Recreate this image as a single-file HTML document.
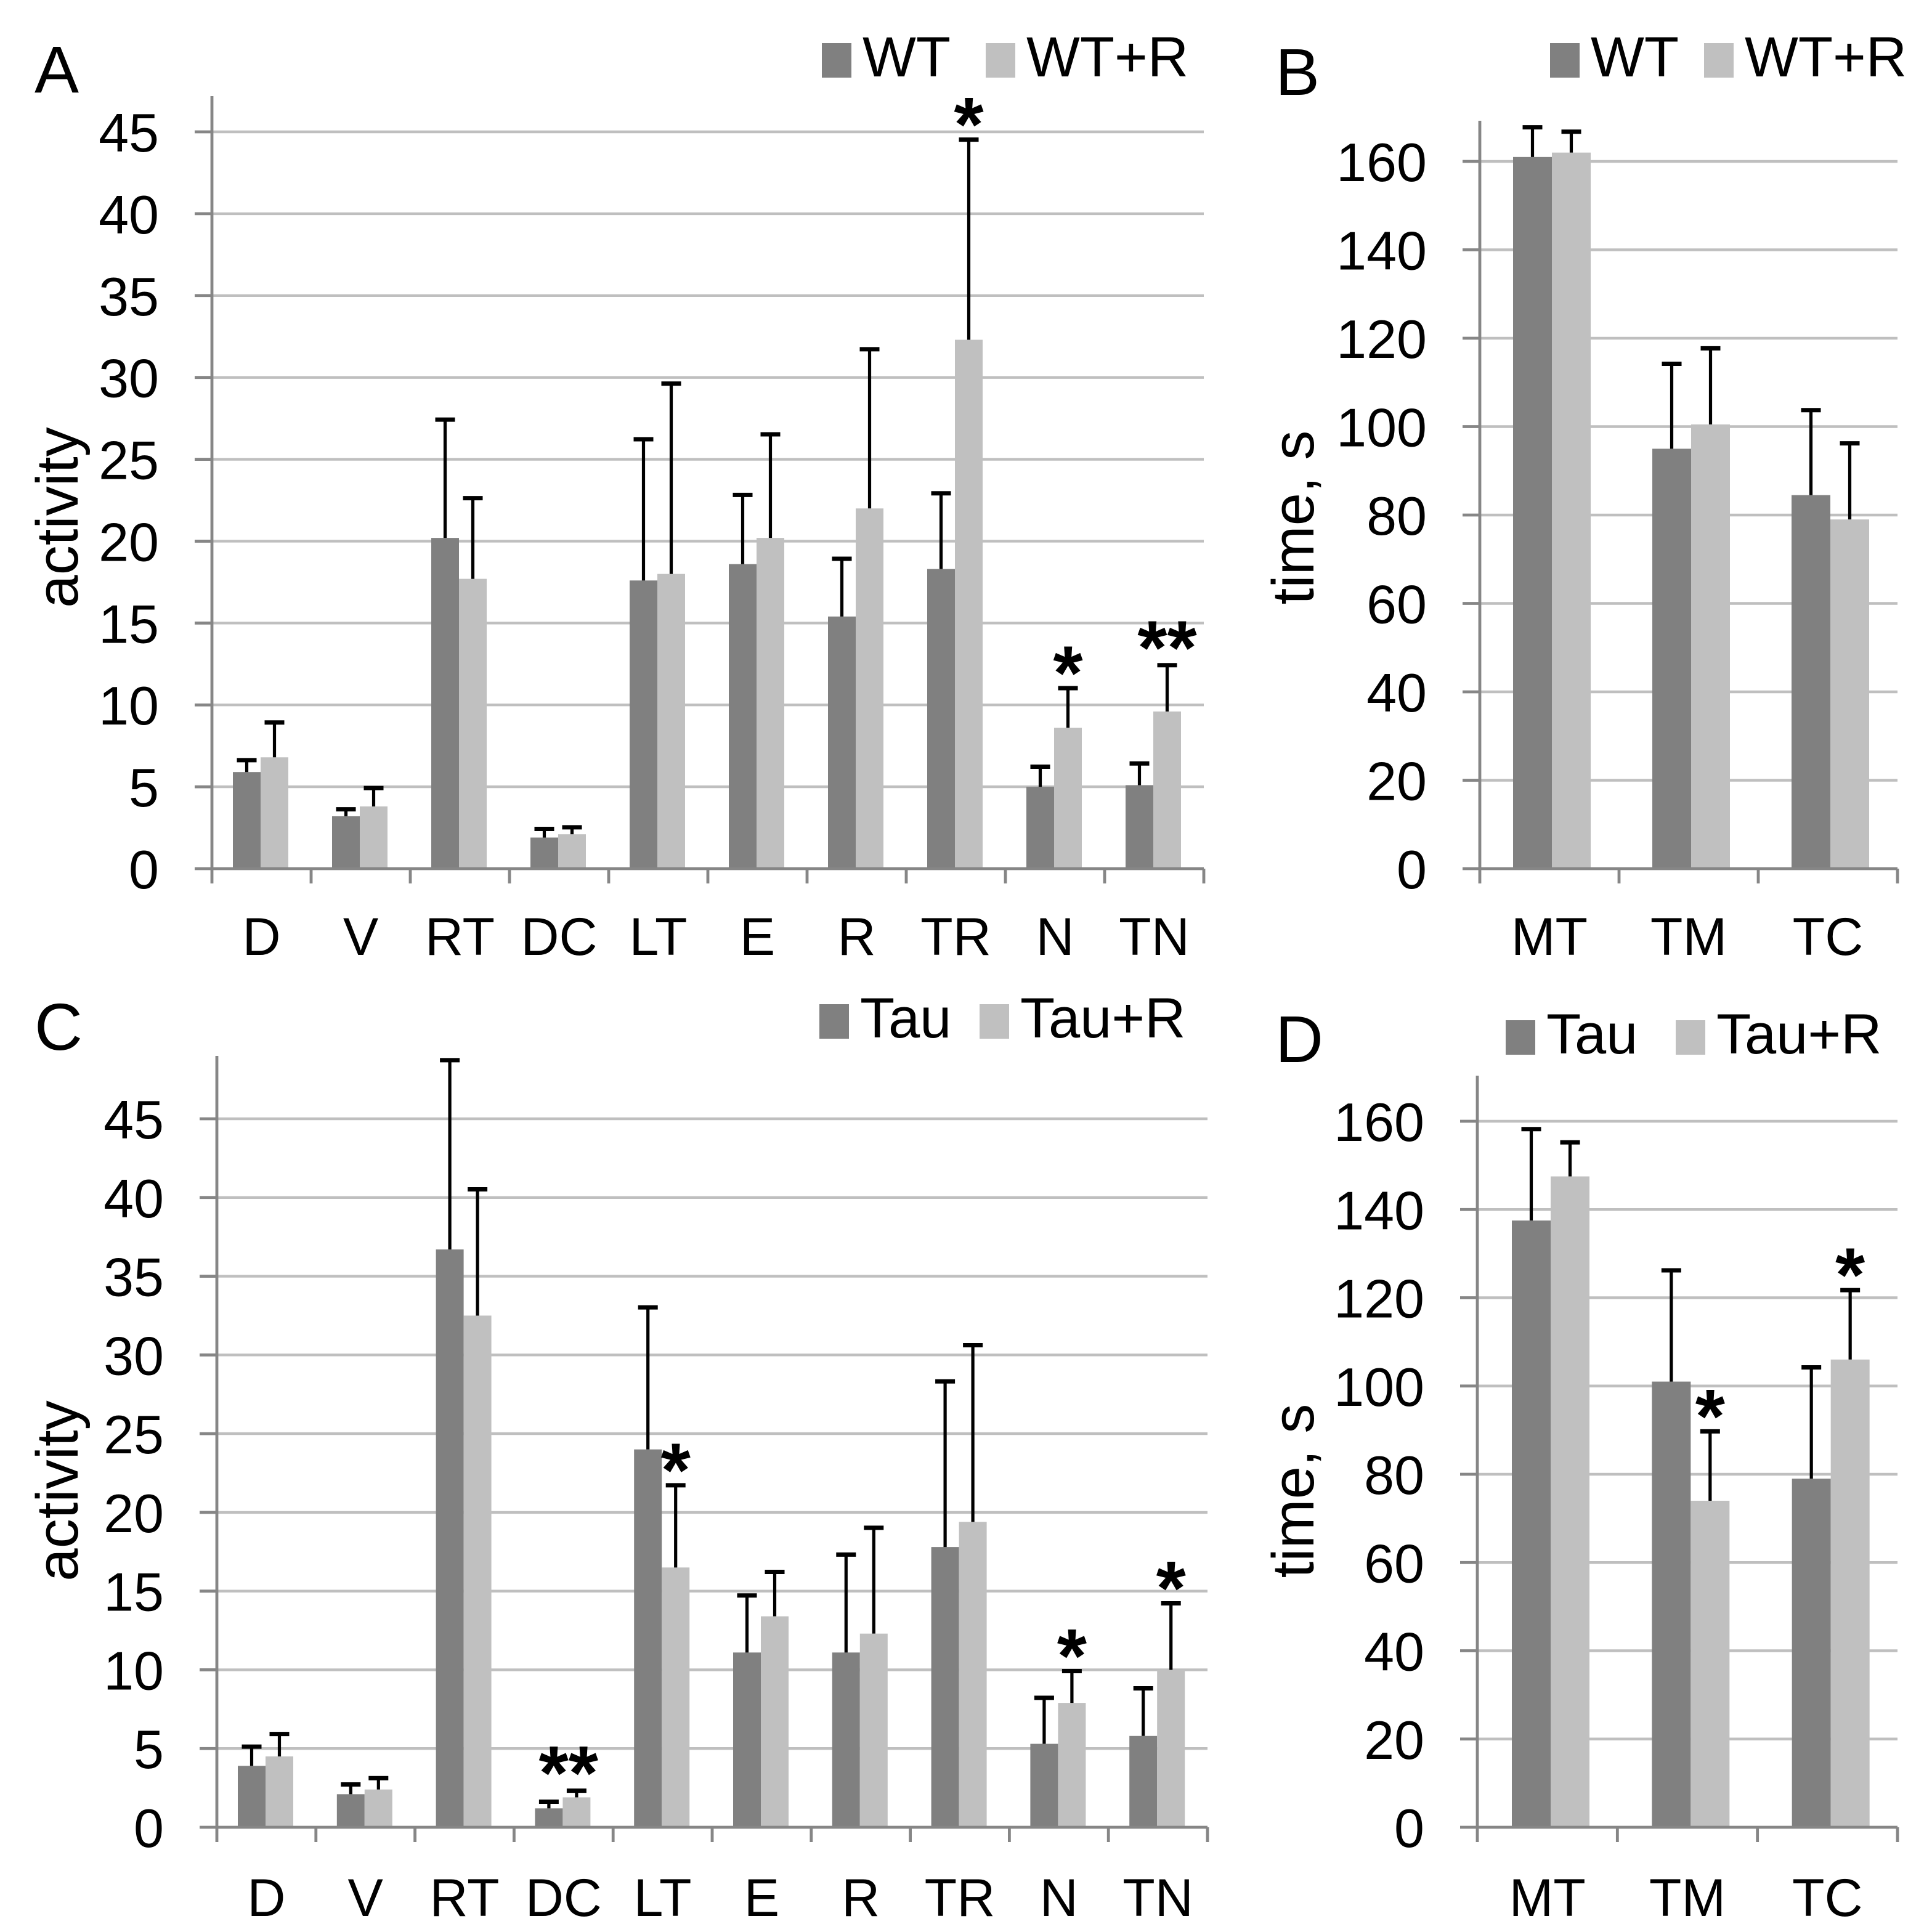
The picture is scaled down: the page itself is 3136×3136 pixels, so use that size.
<!DOCTYPE html>
<html><head><meta charset="utf-8"><style>
html,body{margin:0;padding:0;background:#fff}
svg{display:block}
text{font-family:"Liberation Sans",Arial,sans-serif}
</style></head><body>
<svg id="chart" width="3136" height="3136" viewBox="0 0 1568 1568" xmlns="http://www.w3.org/2000/svg"></svg>
<script>
const catsAct=["D","V","RT","DC","LT","E","R","TR","N","TN"];
const catsTime=["MT","TM","TC"];
const aWT=[5.9,3.2,20.2,1.9,17.6,18.6,15.4,18.3,5.0,5.1];
const aWTerr=[6.7,3.7,27.5,2.5,26.3,22.9,19.0,23.0,6.3,6.5];
const aWTR=[6.8,3.8,17.7,2.1,18.0,20.2,22.0,32.3,8.6,9.6];
const aWTRerr=[9.0,5.0,22.7,2.6,29.7,26.6,31.8,44.6,11.1,12.5];
const aStarsL=["","","","","","","","*","*","**"];
const bWT=[161,95,84.5];
const bWTerr=[168,114.5,104];
const bWTR=[162,100.5,79];
const bWTRerr=[167,118,96.5];
const cTau=[3.9,2.1,36.7,1.2,24.0,11.1,11.1,17.8,5.3,5.8];
const cTauErr=[5.2,2.8,48.8,1.7,33.1,14.8,17.4,28.4,8.3,8.9];
const cTauR=[4.5,2.4,32.5,1.9,16.5,13.4,12.3,19.4,7.9,10.0];
const cTauRerr=[6.0,3.2,40.6,2.4,21.8,16.3,19.1,30.7,10.0,14.3];
const cStarsL=["","","","**","*","","","","*","*"];
const dTau=[137.5,101,79];
const dTauErr=[158.5,126.5,104.5];
const dTauR=[147.5,74,106];
const dTauRerr=[155.5,90,122];
const dStarsL=["","*","*"];
const actTicks=[0,5,10,15,20,25,30,35,40,45];
const timeTicks=[0,20,40,60,80,100,120,140,160];

const svg=document.getElementById('chart');
const NS="http://www.w3.org/2000/svg";
function mk(tag,at,parent){const e=document.createElementNS(NS,tag);for(const k in at)e.setAttribute(k,at[k]);(parent||svg).appendChild(e);return e;}
function txt(s,at,parent){const e=mk('text',at,parent);e.textContent=s;return e;}

function panel(o){
  const g=mk('g',{});
  
  
  const y=v=>o.y0-(v-0)*(o.y0-o.yTop)/o.vTop;
  const n=o.cats.length, band=(o.x1-o.x0)/n;
  const x=i=>o.x0+band*i;
  o.ticks.forEach(t=>{
    if(t>0){const l=mk('line',{x1:o.x0,x2:o.x1,y1:y(t),y2:y(t),stroke:'#bfbfbf','stroke-width':2.2},g);
      }
    const tl=txt(String(t),{x:o.x0-43,y:y(t)+16,'font-size':44,'text-anchor':'end',fill:'#000'},g);
    
    mk('line',{x1:o.x0-14,x2:o.x0,y1:y(t),y2:y(t),stroke:'#868686','stroke-width':2.4},g);
  });
  const ya=mk('line',{x1:o.x0,x2:o.x0,y1:o.axTop,y2:o.y0,stroke:'#868686','stroke-width':2.4},g);
  
  const yt=txt(o.ytitle,{x:0,y:0,'font-size':48,'text-anchor':'middle',transform:`translate(${o.ytx},${o.yty}) rotate(-90)`},g);
  
  const bw=o.bw, off=o.off;
  for(let i=0;i<n;i++){
    const xd=x(i)+off, xl=xd+bw;
    const b1=mk('rect',{x:xd,y:y(o.s1[i]),width:bw,height:o.y0-y(o.s1[i]),fill:'#808080'},g);
    
    const b2=mk('rect',{x:xl,y:y(o.s2[i]),width:bw,height:o.y0-y(o.s2[i]),fill:'#c0c0c0'},g);
    
    [[xd,o.s1[i],o.e1[i]],[xl,o.s2[i],o.e2[i]]].forEach(([bx,v,e])=>{
      const cx=bx+bw/2;
      const eb=mk('path',{d:`M${cx},${y(v)}V${y(e)}`,stroke:'#000','stroke-width':2.6,fill:'none'},g);
      
      const cap=mk('line',{x1:cx-8,x2:cx+8,y1:y(e)+1,y2:y(e)+1,stroke:'#000','stroke-width':3.5},g);
      
    });
    if(o.stars&&o.stars[i]){
      const s=o.stars[i];
      const sx=s.length>1&&o.centerDouble?x(i)+band/2+4:xl+bw/2;
      const st=txt(s,{x:sx,y:y(o.e2[i])+(s.length>1?8:10),'font-size':62,'font-weight':'bold','text-anchor':'middle'},g);
      
    }
    const xl2=txt(o.cats[i],{x:x(i)+band/2,y:o.labY,'font-size':43,'text-anchor':'middle'},g);
    
  }
  for(let i=0;i<=n;i++) mk('line',{x1:x(i),x2:x(i),y1:o.y0,y2:o.y0+12,stroke:'#868686','stroke-width':2.4},g);
  const xa=mk('line',{x1:o.x0,x2:o.x1,y1:o.y0,y2:o.y0,stroke:'#868686','stroke-width':2.4},g);
  
  const lg=mk('g',{},g);
  const L=o.leg;
  const r1=mk('rect',{x:L.x1,y:L.y-27,width:24,height:28,fill:'#808080'},lg);
  
  const t1=txt(o.l1,{x:L.x1+33,y:L.y,'font-size':46},lg);
  
  const r2=mk('rect',{x:L.x2,y:L.y-27,width:24,height:28,fill:'#c0c0c0'},lg);
  
  const t2=txt(o.l2,{x:L.x2+33,y:L.y,'font-size':46},lg);
  
  const pl=txt(o.letter,{x:o.letX,y:o.letY,'font-size':54},g);
  
}

panel({name:'panel-a',cats:catsAct,s1:aWT,e1:aWTerr,s2:aWTR,e2:aWTRerr,stars:aStarsL,l1:'WT',l2:'WT+R',
  x0:172,x1:977,y0:705,yTop:107,vTop:45,axTop:78,ticks:actTicks,bw:22.5,off:17,labY:775,
  ytitle:'activity',ytx:63,yty:420,leg:{x1:667,x2:800,y:62},letter:'A',letX:28,letY:75});
panel({name:'panel-b',cats:catsTime,s1:bWT,e1:bWTerr,s2:bWTR,e2:bWTRerr,l1:'WT',l2:'WT+R',
  x0:1201,x1:1540,y0:705,yTop:131,vTop:160,axTop:98,ticks:timeTicks,bw:31.5,off:27,labY:775,
  ytitle:'time, s',ytx:1066,yty:420,leg:{x1:1258,x2:1383,y:62},letter:'B',letX:1035,letY:77});
panel({name:'panel-c',cats:catsAct,s1:cTau,e1:cTauErr,s2:cTauR,e2:cTauRerr,stars:cStarsL,centerDouble:true,l1:'Tau',l2:'Tau+R',
  x0:176,x1:980,y0:1483,yTop:908,vTop:45,axTop:857,ticks:actTicks,bw:22.5,off:17,labY:1555,
  ytitle:'activity',ytx:63,yty:1210,leg:{x1:665,x2:795,y:842},letter:'C',letX:28,letY:852});
panel({name:'panel-d',cats:catsTime,s1:dTau,e1:dTauErr,s2:dTauR,e2:dTauRerr,stars:dStarsL,l1:'Tau',l2:'Tau+R',
  x0:1199,x1:1540,y0:1483,yTop:910,vTop:160,axTop:873,ticks:timeTicks,bw:31.5,off:28,labY:1555,
  ytitle:'time, s',ytx:1066,yty:1210,leg:{x1:1222,x2:1360,y:855},letter:'D',letX:1035,letY:862});
</script>
</body></html>
